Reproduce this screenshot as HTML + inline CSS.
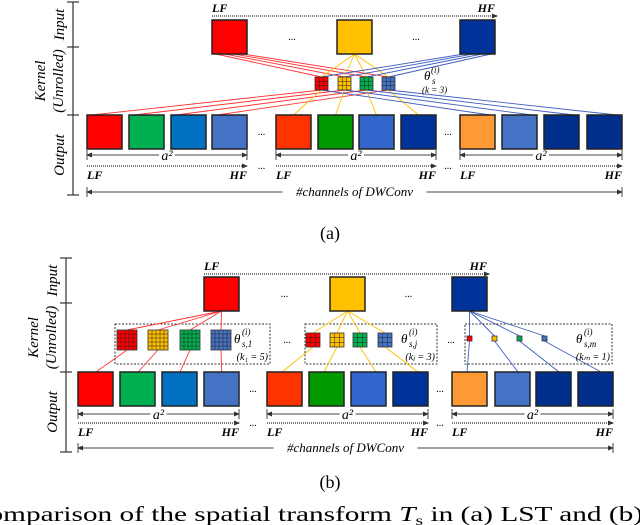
<!DOCTYPE html>
<html><head><meta charset="utf-8"><style>
html,body{margin:0;padding:0;background:#fff;width:640px;height:525px;overflow:hidden}
text{font-family:"Liberation Serif",serif}
.it{font-style:italic;font-family:"Liberation Serif",serif}
.bd{font-weight:bold}
</style></head><body>
<svg id="s" width="640" height="525" viewBox="0 0 640 525" xmlns="http://www.w3.org/2000/svg">
<defs>
<marker id="ar" markerUnits="userSpaceOnUse" markerWidth="6" markerHeight="6" refX="5" refY="3" orient="auto"><path d="M0,0.5 L6,3 L0,5.5 z" fill="#333"/></marker>
<marker id="al" markerUnits="userSpaceOnUse" markerWidth="6" markerHeight="6" refX="1" refY="3" orient="auto"><path d="M6,0.5 L0,3 L6,5.5 z" fill="#333"/></marker>
</defs>
<g id="g"></g>
<text x="330" y="239" font-size="18" text-anchor="middle">(a)</text>
<text x="330" y="488" font-size="18" text-anchor="middle">(b)</text>
<text x="-31" y="521" font-size="21" textLength="674" lengthAdjust="spacingAndGlyphs">Comparison of the spatial transform <tspan font-style="italic">T</tspan><tspan font-size="14" dy="4">s</tspan><tspan dy="-4"> in (a) LST and (b)</tspan></text>
</svg>
<script>
const NS="http://www.w3.org/2000/svg";
const G=document.getElementById('g');
function el(t,a,txt){const e=document.createElementNS(NS,t);for(const k in a)e.setAttribute(k,a[k]);if(txt!==undefined)e.textContent=txt;G.appendChild(e);return e;}
const inCols=['#ff0000','#ffc000','#003399'];
const outCols=['#ff0000','#00b050','#0070c0','#4472c4','#ff3300','#009900','#3366cc','#003399','#ff9933','#4472c4','#002f8e','#002f8e'];
const kCols=['#ff0000','#ffc000','#00b050','#4472c4'];
const lineCols=['#ff3333','#ffc000','#3f5fbf'];

function panel(P){
  let a=el('line',{x1:P.ax,y1:P.ticks[0],x2:P.ax,y2:P.ticks[3],stroke:'#333','stroke-width':1.2});
  
  P.ticks.forEach(t=>{el('line',{x1:P.ax-6,y1:t,x2:P.ax+6,y2:t,stroke:'#333','stroke-width':1.2});});
  const km=(P.ticks[1]+P.ticks[2])/2;
  const lab=[['Input',P.ax-9,(P.ticks[0]+P.ticks[1])/2],['Kernel',P.ax-28,km],['(Unrolled)',P.ax-10,km],['Output',P.ax-9,(P.ticks[2]+P.ticks[3])/2]];
  lab.forEach(l=>{
    const t=el('text',{x:0,y:0,'font-size':15,'text-anchor':'middle',class:'it',transform:`translate(${l[1]},${l[2]}) rotate(-90)`},l[0]);
    });
  el('text',{x:P.inX[0],y:P.lfY,'font-size':12,class:'it bd'},'LF');
  el('text',{x:P.inX[2]+P.inW,y:P.lfY,'font-size':12,class:'it bd','text-anchor':'end'},'HF');
  el('line',{x1:P.inX[0],y1:P.lfY+4,x2:P.inX[2]+P.inW+2,y2:P.lfY+4,stroke:'#555','stroke-width':1.5,'stroke-dasharray':'1 1','marker-end':'url(#ar)'});
  P.links(P);
  P.inX.forEach((x,i)=>{const r=el('rect',{x:x,y:P.inY,width:P.inW,height:P.inH,fill:inCols[i],stroke:'#222','stroke-width':1.5});
    });
  el('text',{x:(P.inX[0]+P.inW+P.inX[1])/2,y:P.inY+P.inH/2+3,'font-size':10,'text-anchor':'middle'},'...');
  el('text',{x:(P.inX[1]+P.inW+P.inX[2])/2,y:P.inY+P.inH/2+3,'font-size':10,'text-anchor':'middle'},'...');
  P.outX.forEach((x,i)=>{const r=el('rect',{x:x,y:P.outY,width:P.outW,height:P.outH,fill:outCols[i],stroke:'#222','stroke-width':1.5});
    });
  [0,1].forEach(g=>{el('text',{x:(P.outX[g*4+3]+P.outW+P.outX[g*4+4])/2,y:P.outY+P.outH/2+3,'font-size':10,'text-anchor':'middle'},'...');
    el('text',{x:(P.outX[g*4+3]+P.outW+P.outX[g*4+4])/2,y:P.lf2Y+3,'font-size':10,'text-anchor':'middle'},'...');});
  [0,1,2].forEach(g=>{const x0=P.outX[g*4],x1=P.outX[g*4+3]+P.outW,m=(x0+x1)/2;
    el('line',{x1:x0,y1:P.a2Y,x2:m-8,y2:P.a2Y,stroke:'#444','stroke-width':1,'marker-start':'url(#al)'});
    el('line',{x1:m+8,y1:P.a2Y,x2:x1,y2:P.a2Y,stroke:'#444','stroke-width':1,'marker-end':'url(#ar)'});
    el('line',{x1:x0,y1:P.a2Y-5,x2:x0,y2:P.a2Y+5,stroke:'#444'});el('line',{x1:x1,y1:P.a2Y-5,x2:x1,y2:P.a2Y+5,stroke:'#444'});
    el('text',{x:m,y:P.a2Y+5,'font-size':14,'text-anchor':'middle',class:'it'},'a²');
    el('line',{x1:x0,y1:P.lf2Y,x2:x1,y2:P.lf2Y,stroke:'#555','stroke-width':1.5,'stroke-dasharray':'1 1','marker-end':'url(#ar)'});
    el('text',{x:x0,y:P.lf2Y+13,'font-size':12,class:'it bd'},'LF');
    el('text',{x:x1,y:P.lf2Y+13,'font-size':12,class:'it bd','text-anchor':'end'},'HF');});
  const c0=P.outX[0],c1=P.outX[11]+P.outW,cm=(c0+c1)/2;
  el('line',{x1:c0,y1:P.chY,x2:cm-72,y2:P.chY,stroke:'#444','marker-start':'url(#al)'});
  el('line',{x1:cm+72,y1:P.chY,x2:c1,y2:P.chY,stroke:'#444','marker-end':'url(#ar)'});
  el('line',{x1:c0,y1:P.chY-5,x2:c0,y2:P.chY+5,stroke:'#444'});el('line',{x1:c1,y1:P.chY-5,x2:c1,y2:P.chY+5,stroke:'#444'});
  const t=el('text',{x:cm,y:P.chY+4,'font-size':13,'text-anchor':'middle',class:'it'},'#channels of DWConv');
  
}
function cube(x,y,w,col,n){
  el('rect',{x:x,y:y,width:w,height:w,fill:col,stroke:'#333','stroke-width':0.8});
  for(let i=1;i<n;i++){const d=w*i/n;el('line',{x1:x+d,y1:y,x2:x+d,y2:y+w,stroke:'#222','stroke-width':0.5});el('line',{x1:x,y1:y+d,x2:x+w,y2:y+d,stroke:'#222','stroke-width':0.5});}
}
const inW=35;
panel({ax:73,ticks:[2,47,115,195],lfY:12,inX:[212,337,460],inY:20,inW:inW,inH:34,
 outX:[87,129,171,212,276,318,359,401,460,502,544,587],outY:115,outW:35,outH:34,a2Y:155,lf2Y:166,chY:192,
 links:P=>{const kx=[315,338,360,382],ky=77,kw=13;
   P.inX.forEach((x,i)=>{kx.forEach((k,j)=>{const sx=i==1?x+inW/2:x+4+j*9;el('line',{x1:sx,y1:54,x2:k+kw/2,y2:ky,stroke:lineCols[i],'stroke-width':0.9});});});
   [0,1,2].forEach(g=>{kx.forEach((k,j)=>{const o=P.outX[g*4+j];el('line',{x1:k+kw/2,y1:ky+kw,x2:g==1?o+P.outW/2:(g==0?o+5:o+30),y2:115,stroke:lineCols[g],'stroke-width':0.9});});});
   kx.forEach((k,j)=>{cube(k,ky,kw,kCols[j],3);});
   el('text',{x:424,y:80,'font-size':13,class:'it'},'θ');el('text',{x:432,y:84,'font-size':9,class:'it'},'s');el('text',{x:431,y:73,'font-size':9,class:'it'},'(i)');
   el('text',{x:422,y:93,'font-size':9,class:'it'},'(k = 3)');
 }});
panel({ax:66,ticks:[258,303,372,452],lfY:270,inX:[204,330,452],inY:277,inW:inW,inH:34,
 outX:[78,120,162,204,267,309,351,393,452,495,536,578],outY:372,outW:35,outH:34,a2Y:414,lf2Y:423,chY:448,
 links:P=>{const groups=[{bx:[115,270],kx:[117,148,180,211],kw:20,ky:330,n:5,t:'s,1',k:'(k₁ = 5)'},
   {bx:[305,437],kx:[306,330,353,378],kw:14,ky:333,n:3,t:'s,j',k:'(kⱼ = 3)'},
   {bx:[465,612],kx:[467,492,517,542],kw:5,ky:336,n:1,t:'s,m',k:'(kₘ = 1)'}];
   groups.forEach((g,gi)=>{const r=el('rect',{x:g.bx[0],y:324,width:g.bx[1]-g.bx[0],height:40,fill:'none',stroke:'#333','stroke-dasharray':'2 1.5','stroke-width':1});
     
     g.kx.forEach((k,j)=>{el('line',{x1:P.inX[gi]+inW/2,y1:311,x2:k+g.kw/2,y2:g.ky,stroke:lineCols[gi],'stroke-width':0.9});
       const o=P.outX[gi*4+j];el('line',{x1:k+g.kw/2,y1:g.ky+g.kw,x2:gi==0?o+(j==3?P.outW/2:18):(gi==1?o+(j<2?15:P.outW-10):o+(j==0?15:P.outW-12)),y2:372,stroke:lineCols[gi],'stroke-width':0.9});
       cube(k,g.ky,g.kw,kCols[j],g.n);});
     const tx=g.bx[1]-36;
     el('text',{x:tx,y:343,'font-size':13,class:'it'},'θ');el('text',{x:tx+8,y:347,'font-size':9,class:'it'},g.t);el('text',{x:tx+8,y:335,'font-size':9,class:'it'},'(i)');
     el('text',{x:g.bx[1]-2,y:360,'font-size':10,class:'it','text-anchor':'end'},g.k);
   });
   el('text',{x:287,y:343,'font-size':10,'text-anchor':'middle'},'...');el('text',{x:451,y:343,'font-size':10,'text-anchor':'middle'},'...');
 }});
</script>
</body></html>
